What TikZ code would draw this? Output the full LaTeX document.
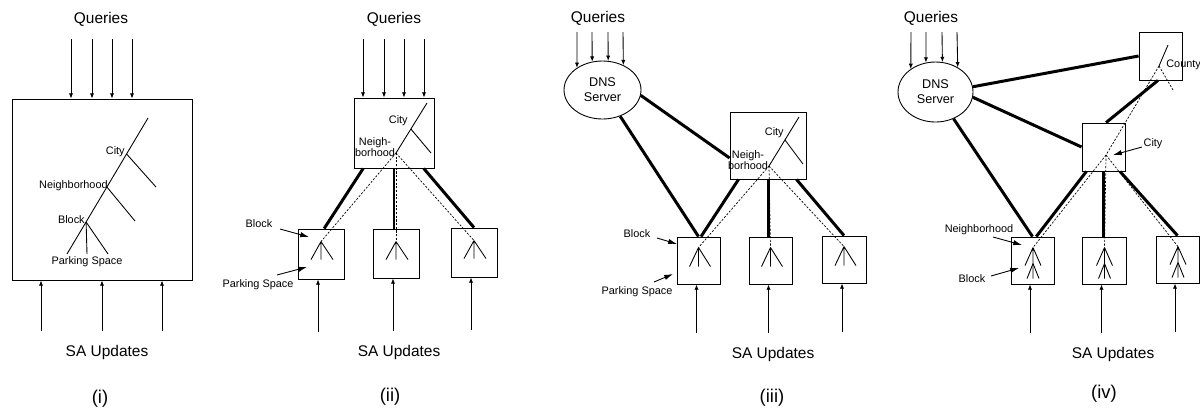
\documentclass[tikz,border=0pt]{standalone}
\usepackage{fontspec}
\setmainfont{Liberation Sans}
\usetikzlibrary{positioning}
\usetikzlibrary{shapes.geometric}
\usetikzlibrary{arrows.meta}
\usetikzlibrary{calc}

\tikzset{
  box/.style={draw, rectangle, inner sep=0pt, line width=0.5pt},
  server/.style={draw, ellipse, inner sep=0pt, align=center, line width=0.5pt,
    font=\fontsize{7.2}{8.4}\selectfont},
  link/.style={line width=1.7pt},
  trail/.style={line width=0.4pt, dash pattern=on 1.2pt off 0.9pt},
  feed/.style={-{Latex[length=3pt,width=2.4pt]}, line width=0.5pt},
  pointer/.style={-{Latex[length=5pt,width=3pt]}, line width=0.5pt},
  heading/.style={font=\fontsize{8.8}{10}\selectfont, anchor=base, inner sep=0pt},
  tag/.style={font=\fontsize{6.2}{6.4}\selectfont, inner sep=0.5pt, align=center},
  caption/.style={font=\fontsize{10.5}{12}\selectfont, inner sep=0pt},
}

\begin{document}
\begin{tikzpicture}[x=0.02cm, y=-0.02cm, line width=0.5pt]
\useasboundingbox (0,0) rectangle (1200,410);

% (i) one server holds the whole tree
\node[heading] (q1) at (101,23) {Queries};
\node[box, minimum width=3.6cm, minimum height=3.62cm] (s1) at (102,189.5) {};
\foreach \x in {71,92,112,132}
  \draw[feed] (\x,39) -- (\x,0 |- s1.north);
\draw (148,118) -- (67,254);
\draw (126.6,154) -- (156,187);
\draw (106.9,187) -- (135,221);
\draw (86.1,222) -- (87,254);
\draw (86.1,222) -- (108,254);
\node[tag, anchor=east] at (126,152) {City};
\node[tag, anchor=east] at (109,186) {Neighborhood};
\node[tag, anchor=east] at (86,220) {Block};
\node[tag] at (87,262) {Parking Space};
\foreach \x in {41,102,162}
  \draw[feed] (\x,331) -- (\x,0 |- s1.south);
\node[heading] (u1) at (107,356) {SA Updates};
\node[caption] (c1) at (100,399) {(i)};

% (ii) city server above block servers
\node[heading] (q2) at (394,23) {Queries};
\node[box, minimum width=1.6cm, minimum height=1.4cm] (t2) at (394,133) {};
\node[box, minimum width=0.92cm, minimum height=1cm] (b21) at (321,254) {};
\node[box, minimum width=0.92cm, minimum height=0.98cm] (b22) at (396,253.5) {};
\node[box, minimum width=0.92cm, minimum height=0.98cm] (b23) at (474,252.5) {};
\foreach \x in {363,384,404,424}
  \draw[feed] (\x,39) -- (\x,0 |- t2.north);
\draw (427,103) -- (396,153);
\draw (410.9,129) -- (431,153);
\coordinate (n2) at (396,153);
\node[tag, anchor=east] at (409,121) {City};
\node[tag] at (375,147) {Neigh-\\borhood};
\draw[link] (t2.229.4) -- (b21.83.2);
\draw[link] (t2.south) -- (t2.south |- b22.north);
\draw[link] (t2.310.6) -- (b23.north);
\foreach \b in {b21,b22,b23} {
  \coordinate (\b a) at ($(\b.north)+(0,13)$);
  \draw[trail] (n2) -- (\b a);
  \draw (\b a) -- ++(-10,18) (\b a) -- ++(0,18) (\b a) -- ++(12,18);
  \draw[feed] ($(\b.south)+(-3,53)$) -- ($(\b.south)+(-3,0)$);
}
\node[tag] (blk2) at (259,224) {Block};
\node[tag] (park2) at (258,285) {Parking Space};
\draw[pointer] (280,229) -- (309,237);
\draw[pointer] (277,275) -- (307,267);
\node[heading] (u2) at (399,356) {SA Updates};
\node[caption] (c2) at (390,397) {(ii)};

% (iii) DNS server points at every level
\node[heading] (q3) at (598,22) {Queries};
\node[server, minimum width=1.54cm, minimum height=1.16cm] (dns3) at (602.5,90) {DNS\\Server};
\foreach \a/\x in {139.6/577,110.6/592,79.2/608,50.1/623}
  \draw[feed] (\x,32) -- (dns3.\a);
\node[box, minimum width=1.52cm, minimum height=1.34cm] (t3) at (768,145.5) {};
\node[box, minimum width=0.86cm, minimum height=0.94cm] (b31) at (698.5,260.5) {};
\node[box, minimum width=0.86cm, minimum height=0.94cm] (b32) at (770.5,260.5) {};
\node[box, minimum width=0.88cm, minimum height=0.94cm] (b33) at (844,259.5) {};
\draw (799,117) -- (769,166);
\draw (785,140) -- (803,164);
\coordinate (n3) at (769,166);
\node[tag, anchor=east] at (785,133) {City};
\node[tag] at (748,160) {Neigh-\\borhood};
\draw[link] (dns3.-8) -- (t3.198);
\draw[link] (dns3.-56) -- (b31.north);
\draw[link] (t3.229.1) -- (b31.84);
\draw[link] (t3.south) -- (t3.south |- b32.north);
\draw[link] (t3.310.9) -- (b33.north);
\foreach \b in {b31,b32,b33} {
  \coordinate (\b a) at ($(\b.north)+(0,11)$);
  \draw[trail] (n3) -- (\b a);
  \draw (\b a) -- ++(-9,19) (\b a) -- ++(0,19) (\b a) -- ++(12,19);
  \draw[feed] ($(\b.south)+(-2,49)$) -- ($(\b.south)+(-2,0)$);
}
\node[tag] (blk3) at (637,234) {Block};
\node[tag] (park3) at (637,292) {Parking Space};
\draw[pointer] (657,238) -- (677,244);
\draw[pointer] (654,282) -- (673,274);
\node[heading] (u3) at (773,358) {SA Updates};
\node[caption] (c3) at (772,398) {(iii)};

% (iv) county and city servers, DNS points at every level
\node[heading] (q4) at (931,22) {Queries};
\node[server, minimum width=1.5cm, minimum height=1.2cm] (dns4) at (935.5,92) {DNS\\Server};
\foreach \a/\x in {137.2/911,108.1/926,77.6/942,48.8/957}
  \draw[feed] (\x,32) -- (dns4.\a);
\node[box, minimum width=0.86cm, minimum height=0.96cm] (cty) at (1160.5,56) {};
\node[box, minimum width=0.86cm, minimum height=0.96cm] (city) at (1103.5,147) {};
\node[box, minimum width=0.86cm, minimum height=0.94cm] (b41) at (1032.5,260.5) {};
\node[box, minimum width=0.88cm, minimum height=0.94cm] (b42) at (1104,260.5) {};
\node[box, minimum width=0.86cm, minimum height=0.94cm] (b43) at (1177.5,259.5) {};
\draw (1168,45) -- (1159,66);
\coordinate (n4) at (1159,66);
\coordinate (m4) at (1106,155);
\draw[trail] (n4) -- (1173,90);
\draw[trail] (n4) -- (m4);
\node[tag, anchor=west] at (1165,65) {County};
\draw[link] (dns4.8) -- (cty.west);
\draw[link] (dns4.-8) -- (city.west);
\draw[link] (dns4.-56) -- (b41.north);
\draw[link] (city.84) -- (cty.264);
\draw[link] (city.235.5) -- (b41.81.5);
\draw[link] (city.south) -- (city.south |- b42.north);
\draw[link] (city.304.5) -- (b43.north);
\foreach \b in {b41,b42,b43} {
  \coordinate (\b a) at ($(\b.north)+(0.5,11)$);
  \draw[trail] (m4) -- (\b a);
  \draw (\b a) -- ++(-8,18) (\b a) -- ++(0,31) (\b a) -- ++(8,18);
  \draw ($(\b a)+(0,16)$) -- ++(-6,15) ($(\b a)+(0,16)$) -- ++(6,15);
  \draw[feed] ($(\b.south)+(-2.5,49)$) -- ($(\b.south)+(-2.5,0)$);
}
\node[tag] (cityl) at (1153,144) {City};
\draw[pointer] (1142,147) -- (1113,155);
\node[tag] (nbh4) at (979,230) {Neighborhood};
\node[tag] (blk4) at (972,279) {Block};
\draw[pointer] (993,237) -- (1022,245);
\draw[pointer] (991,276) -- (1019,268);
\node[heading] (u4) at (1113,358) {SA Updates};
\node[caption] (c4) at (1104,394) {(iv)};
\end{tikzpicture}
\end{document}
